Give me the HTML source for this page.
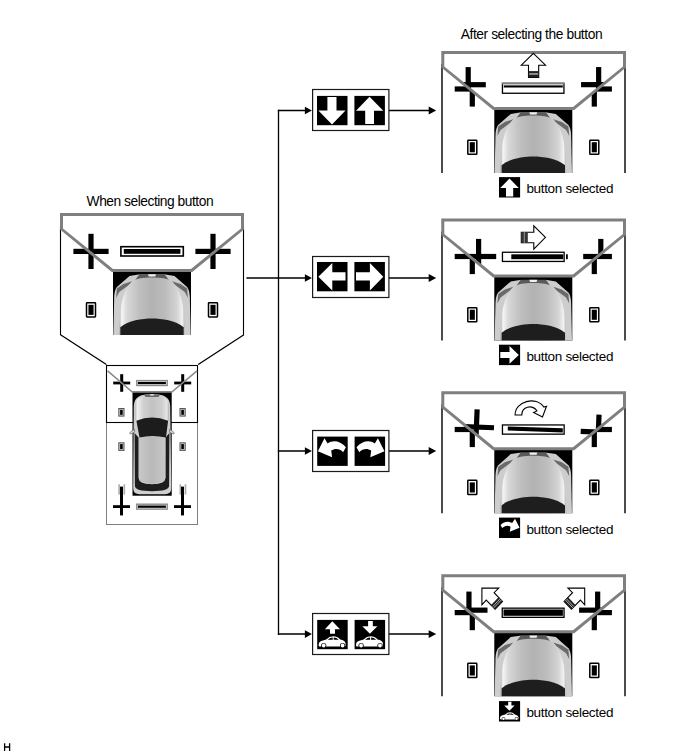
<!DOCTYPE html>
<html><head><meta charset="utf-8"><title>Parking guide adjustment</title>
<style>html,body{margin:0;padding:0;background:#fff;width:688px;height:755px;overflow:hidden}svg{display:block}</style>
</head><body>
<svg width="688" height="755" viewBox="0 0 688 755"><defs>
<linearGradient id="hood" x1="0" x2="1" y1="0" y2="0">
<stop offset="0" stop-color="#b8b8b8"/><stop offset="0.07" stop-color="#f0f0f0"/><stop offset="0.25" stop-color="#d0d0d0"/>
<stop offset="0.5" stop-color="#c2c2c2"/><stop offset="0.8" stop-color="#cfcfcf"/><stop offset="0.94" stop-color="#e6e6e6"/><stop offset="1" stop-color="#b0b0b0"/></linearGradient>
<linearGradient id="hoodL" x1="0" x2="1" y1="0" y2="0"><stop offset="0" stop-color="#b0b0b0"/><stop offset="0.1" stop-color="#f4f4f4"/><stop offset="0.35" stop-color="#d2d2d2"/><stop offset="1" stop-color="#c2c2c2"/></linearGradient>
<linearGradient id="hoodF" x1="0" x2="1" y1="0" y2="0"><stop offset="0" stop-color="#a8a8a8"/><stop offset="0.04" stop-color="#f6f6f6"/><stop offset="0.12" stop-color="#d8d8d8"/><stop offset="0.3" stop-color="#c0c0c0"/><stop offset="0.5" stop-color="#b2b2b2"/><stop offset="0.7" stop-color="#bcbcbc"/><stop offset="0.88" stop-color="#d4d4d4"/><stop offset="0.96" stop-color="#f2f2f2"/><stop offset="1" stop-color="#b0b0b0"/></linearGradient>
<linearGradient id="roof" x1="0" x2="1"><stop offset="0" stop-color="#c8c8c8"/><stop offset="0.5" stop-color="#b9b9b9"/><stop offset="1" stop-color="#c8c8c8"/></linearGradient>
<clipPath id="trap" clipPathUnits="userSpaceOnUse"><path d="M0,0 H185 V14.7 L131.5,57.5 H52.5 L0,14.7 Z"/></clipPath>
<clipPath id="outside" clipPathUnits="userSpaceOnUse"><path d="M-10,14.7 L0,14.7 L52.5,57.5 H131.5 L185,14.7 H200 V130 H-10 Z"/></clipPath>
</defs>
<text x="86.6" y="205.6" font-size="13.8" textLength="127" lengthAdjust="spacing" font-family="Liberation Sans, sans-serif" fill="#000">When selecting button</text>
<text x="460.8" y="38.9" font-size="13.8" textLength="141.8" lengthAdjust="spacing" font-family="Liberation Sans, sans-serif" fill="#000">After selecting the button</text>
<path d="M4.6,743.2 V751 M9.6,743.2 V751 M4.6,747 H9.6" stroke="#000" stroke-width="1.3" fill="none"/>
<g transform="translate(60,213)">
<rect x="53" y="58.5" width="78" height="63.5" fill="#000"/>
<g transform="translate(52.5,59)">
<path d="M39.9,2.6 L26,2.6 L17,3.9 L4.4,15.1 Q2,18 1.7,25 L0.8,63 L39.9,63 Z" fill="#cdcdcd"/>
<path d="M39.9,2.3 L26.9,2.3 L22.3,8.6 L39.9,8.6 Z" fill="#5a5a5a"/>
<path d="M3.6,26 L4.4,16.5 L11,12 L19.5,9.3 L17,12.5 L6.8,20 L5,23.3 Z" fill="#6a6a6a"/>
<g transform="matrix(-1,0,0,1,79,0)">
<path d="M39.9,2.6 L26,2.6 L17,3.9 L4.4,15.1 Q2,18 1.7,25 L0.8,63 L39.9,63 Z" fill="#cdcdcd"/>
<path d="M39.9,2.3 L26.9,2.3 L22.3,8.6 L39.9,8.6 Z" fill="#5a5a5a"/>
<path d="M3.6,26 L4.4,16.5 L11,12 L19.5,9.3 L17,12.5 L6.8,20 L5,23.3 Z" fill="#6a6a6a"/>
</g><path d="M39.5,5.6 C30,5.6 24.5,6.6 21.1,8.5 C14,13 9.5,25 8.2,37.3 C7.3,46 6.7,55 6.5,63 L72.5,63 C72.3,55 71.7,46 70.8,37.3 C69.5,25 65,13 57.9,8.5 C54.5,6.6 49,5.6 39.5,5.6 Z" fill="url(#hoodF)"/><path d="M35.5,2.3 L43.5,2.3 L42.7,4.6 L36.3,4.6 Z" fill="#f0f0f0"/><path d="M7.8,55.2 C15.5,48.5 30,46.5 39.5,46.5 C49,46.5 63.5,48.5 71.2,55.2 L71.2,63 L7.8,63 Z" fill="#1e1e1e"/></g>
<path d="M0.5,13 V122 M183.5,13 V122" stroke="#000" stroke-width="1.1" fill="none"/>
<rect x="28.40" y="20.80" width="5.2" height="35.2"/><rect x="13.40" y="35.80" width="35.2" height="5.2"/><rect x="150.40" y="20.80" width="5.2" height="35.2"/><rect x="135.40" y="35.80" width="35.2" height="5.2"/>
<path fill="#7f7f7f" fill-rule="evenodd" d="M0,0 H184 V16.6 L132.2,59 H51.8 L0,16.6 Z M3,3 V15.4 L53,56 H131 L181,15.4 V3 Z"/>
<g transform="translate(0,0)">
<rect x="60.9" y="33.7" width="62.4" height="9.3" fill="#fff" stroke="#000" stroke-width="1.6"/>
<rect x="63.8" y="36" width="56.6" height="4.8" fill="#000"/>
</g>
<rect x="26.50" y="89.75" width="9" height="14.2" rx="0.6" fill="#fff" stroke="#000" stroke-width="1.5"/>
<rect x="28.45" y="91.80" width="5.1" height="10.1" fill="#000"/>
<rect x="148.50" y="89.75" width="9" height="14.2" rx="0.6" fill="#fff" stroke="#000" stroke-width="1.5"/>
<rect x="150.45" y="91.80" width="5.1" height="10.1" fill="#000"/>
</g>
<path d="M60.5,334.7 L106.4,364.5 M243.9,334.7 L198.2,364.5" stroke="#000" stroke-width="1.3" fill="none"/>
<rect x="106.5" y="422.5" width="91" height="102" fill="#fff" stroke="#808080" stroke-width="1"/>
<rect x="132.5" y="391.5" width="39.2" height="104.2" fill="#000"/>
<rect x="106.5" y="365.5" width="91" height="57" fill="none" stroke="#000" stroke-width="1.1"/>
<rect x="120.2" y="374.2" width="3" height="17.6"/><rect x="113.2" y="381.6" width="17" height="2.8"/>
<rect x="181.2" y="374.2" width="3" height="17.6"/><rect x="174.2" y="381.6" width="17" height="2.8"/>
<rect x="120.0" y="497.8" width="3" height="17.6"/><rect x="113.0" y="505.20000000000005" width="17" height="2.8"/>
<rect x="181.0" y="497.8" width="3" height="17.6"/><rect x="174.0" y="505.20000000000005" width="17" height="2.8"/>
<path d="M107.6,370.8 L132.3,392 H171.8 L197,370.8" stroke="#8a8a8a" stroke-width="1.6" fill="none"/>
<rect x="136.8" y="380.59999999999997" width="30.4" height="4.9" fill="#fff" stroke="#888" stroke-width="1.4"/>
<rect x="137.9" y="381.9" width="28" height="2.3" fill="#000"/>
<rect x="136.8" y="504.2" width="30.4" height="4.9" fill="#fff" stroke="#888" stroke-width="1.4"/>
<rect x="137.9" y="505.5" width="28" height="2.3" fill="#000"/>
<rect x="118.8" y="408.5" width="5.2" height="7.6" fill="#d0d0d0" stroke="#555" stroke-width="1"/><rect x="120.1" y="409.8" width="2.6" height="5" fill="#000"/>
<rect x="118.8" y="442.8" width="5.2" height="7.6" fill="#d0d0d0" stroke="#555" stroke-width="1"/><rect x="120.1" y="444.1" width="2.6" height="5" fill="#000"/>
<rect x="118.3" y="484.3" width="1.6" height="10.3" fill="#aaa"/><rect x="123.5" y="484.3" width="1.6" height="10.3" fill="#aaa"/>
<rect x="180.0" y="408.5" width="5.2" height="7.6" fill="#d0d0d0" stroke="#555" stroke-width="1"/><rect x="181.3" y="409.8" width="2.6" height="5" fill="#000"/>
<rect x="180.0" y="442.8" width="5.2" height="7.6" fill="#d0d0d0" stroke="#555" stroke-width="1"/><rect x="181.3" y="444.1" width="2.6" height="5" fill="#000"/>
<rect x="179.5" y="484.3" width="1.6" height="10.3" fill="#aaa"/><rect x="184.7" y="484.3" width="1.6" height="10.3" fill="#aaa"/>
<rect x="120.0" y="486.6" width="3" height="20"/>
<rect x="181.0" y="486.6" width="3" height="20"/>
<g>
<path d="M133.8,406 C134.2,396 141,394.2 152,394.2 C163,394.2 169.8,396 170.2,406 L171.3,488 Q171.3,494.2 165,494.2 L139.5,494.2 Q133.2,494.2 133.2,488 Z" fill="#cfcfcf"/>
<path d="M134.6,433 L134.9,486 Q135.5,491.2 152,491.2 Q168.5,491.2 169.1,486 L169.4,433 L165.6,437.6 L165.5,478 Q165,484.2 152,484.2 Q139,484.2 138.6,478 L138.5,437.6 Z" fill="#1e1e1e"/>
<path d="M139,437.8 Q152,435.2 165.2,437.8 L165.3,477.5 Q165,483.8 152,483.8 Q139,483.8 138.8,477.5 Z" fill="url(#roof)"/>
<path d="M135,407 C135.4,397.5 141.5,395.6 152,395.6 C162.5,395.6 168.6,397.5 169,407 L169,421 L135,421 Z" fill="url(#hood)"/>
<path d="M144,394.4 L160,394.4 L158.5,397 L145.5,397 Z" fill="#6a6a6a"/>
<path d="M150,394.3 L154,394.3 L153.6,395.6 L150.4,395.6 Z" fill="#f4f4f4"/>
<path d="M136.4,420.7 Q152,414.3 168.1,420.7 L166,437.6 Q152,434.6 139.5,437.6 Z" fill="#1c1c1c"/>
<path d="M134.5,429.2 L130,432.4 Q129,433.8 130.4,434 L134.6,432.2 Z M169.5,429.2 L174,432.4 Q175,433.8 173.6,434 L169.4,432.2 Z" fill="#d8d8d8" stroke="#555" stroke-width="0.6"/>
</g>
<path d="M246.4,278 H278.5" stroke="#000" stroke-width="1.6" fill="none"/>
<path d="M278.5,109.8 V634.9" stroke="#000" stroke-width="1.3" fill="none"/>
<path d="M277.85,110.5 H306 M389,110.5 H430" stroke="#000" stroke-width="1.5" fill="none"/>
<path d="M311.9,110.5 L304.9,106.7 L304.9,114.3 Z"/>
<path d="M436.2,110.5 L428.7,106.6 L428.7,114.4 Z"/>
<path d="M277.85,278.0 H306 M389,278.0 H430" stroke="#000" stroke-width="1.5" fill="none"/>
<path d="M311.9,278.0 L304.9,274.2 L304.9,281.8 Z"/>
<path d="M436.2,278.0 L428.7,274.1 L428.7,281.9 Z"/>
<path d="M277.85,451.0 H306 M389,451.0 H430" stroke="#000" stroke-width="1.5" fill="none"/>
<path d="M311.9,451.0 L304.9,447.2 L304.9,454.8 Z"/>
<path d="M436.2,451.0 L428.7,447.1 L428.7,454.9 Z"/>
<path d="M277.85,634.1 H306 M389,634.1 H430" stroke="#000" stroke-width="1.5" fill="none"/>
<path d="M311.9,634.1 L304.9,630.3000000000001 L304.9,637.9 Z"/>
<path d="M436.2,634.1 L428.7,630.2 L428.7,638.0 Z"/>
<rect x="312.6" y="89.5" width="76.3" height="41" fill="#fff" stroke="#1a1a1a" stroke-width="1.2"/>
<rect x="312.6" y="256.5" width="76.3" height="41" fill="#fff" stroke="#1a1a1a" stroke-width="1.2"/>
<rect x="312.6" y="430.5" width="76.3" height="41" fill="#fff" stroke="#1a1a1a" stroke-width="1.2"/>
<rect x="312.6" y="613.5" width="76.3" height="41" fill="#fff" stroke="#1a1a1a" stroke-width="1.2"/>
<rect x="317" y="95.9" width="30.5" height="29.3" fill="#000"/><path fill="#fff" d="M327.4,97 H336.5 V110.4 H345.5 L332,124.4 L318.4,110.4 H327.4 Z"/>
<rect x="354.4" y="95.9" width="30.5" height="29.3" fill="#000"/><path fill="#fff" d="M369.5,96.8 L383.3,110.8 H374 V124.1 H365.2 V110.8 H356 Z"/>
<rect x="317" y="262" width="30.5" height="29.3" fill="#000"/><path fill="#fff" d="M318.4,276.7 L332.3,263 V272.3 H345.5 V280.5 H332.3 V290.4 Z"/>
<rect x="354.4" y="262" width="30.5" height="29.3" fill="#000"/><path fill="#fff" d="M383.3,276.7 L369.9,263 V272.3 H356 V280.5 H369.9 V290.4 Z"/>
<rect x="317.2" y="436.6" width="30.5" height="29.3" fill="#000"/><path fill="#fff" d="M324.5,438.2 L317.9,451.3 L332.1,457.2 L331.2,450.6 C335,447.8 340,448.6 343.1,452.2 L345.9,447.3 C340,440.3 332.5,439.8 327.6,443.4 Z"/>
<rect x="354.6" y="436.6" width="30.5" height="29.3" fill="#000"/><path fill="#fff" d="M377.9,438.2 L384.5,451.3 L370.3,457.2 L371.2,450.6 C367.4,447.8 362.4,448.6 359.3,452.2 L356.5,447.3 C362.4,440.3 369.9,439.8 374.8,443.4 Z"/>
<rect x="317.2" y="619.9" width="30.5" height="29.3" fill="#000"/><path fill="#fff" d="M332.3,621.3 L340,629.2 H335 V633.8 H330 V629.2 H324.9 Z"/><g transform="translate(317.2,619.9)" fill="#fff"><path d="M1.5,26 Q1,22 4,21 L9,19.5 Q12,16.3 16,16.3 Q20,16.3 23,19.6 Q27.5,20.5 28.3,23 L28.3,26 Q28,26.7 26,26.7 L4,26.7 Q1.8,26.7 1.5,26 Z"/><path d="M10.5,19.8 Q13,17.6 15.5,17.6 L15.5,19.8 Z M16.5,17.6 Q19.5,17.6 21.5,19.8 L16.5,19.8 Z" fill="#000"/><circle cx="6.5" cy="25.6" r="2.6" fill="#000"/><circle cx="6.5" cy="25.6" r="1.9" fill="#fff"/><circle cx="25.4" cy="25.6" r="2.6" fill="#000"/><circle cx="25.4" cy="25.6" r="1.9" fill="#fff"/></g>
<rect x="354.6" y="619.9" width="30.5" height="29.3" fill="#000"/><path fill="#fff" d="M368.1,621 H372.8 V626.3 H377.4 L369.9,633.8 L362.3,626.3 H368.1 Z"/><g transform="translate(354.6,619.9)" fill="#fff"><path d="M1.5,26 Q1,22 4,21 L9,19.5 Q12,16.3 16,16.3 Q20,16.3 23,19.6 Q27.5,20.5 28.3,23 L28.3,26 Q28,26.7 26,26.7 L4,26.7 Q1.8,26.7 1.5,26 Z"/><path d="M10.5,19.8 Q13,17.6 15.5,17.6 L15.5,19.8 Z M16.5,17.6 Q19.5,17.6 21.5,19.8 L16.5,19.8 Z" fill="#000"/><circle cx="6.5" cy="25.6" r="2.6" fill="#000"/><circle cx="6.5" cy="25.6" r="1.9" fill="#fff"/><circle cx="25.4" cy="25.6" r="2.6" fill="#000"/><circle cx="25.4" cy="25.6" r="1.9" fill="#fff"/></g>
<g transform="translate(441.3,51)">
<rect x="53" y="58.5" width="78" height="63.5" fill="#000"/>
<g transform="translate(52.5,59)">
<path d="M39.9,2.6 L26,2.6 L17,3.9 L4.4,15.1 Q2,18 1.7,25 L0.8,63 L39.9,63 Z" fill="#cdcdcd"/>
<path d="M39.9,2.3 L26.9,2.3 L22.3,8.6 L39.9,8.6 Z" fill="#5a5a5a"/>
<path d="M3.6,26 L4.4,16.5 L11,12 L19.5,9.3 L17,12.5 L6.8,20 L5,23.3 Z" fill="#6a6a6a"/>
<g transform="matrix(-1,0,0,1,79,0)">
<path d="M39.9,2.6 L26,2.6 L17,3.9 L4.4,15.1 Q2,18 1.7,25 L0.8,63 L39.9,63 Z" fill="#cdcdcd"/>
<path d="M39.9,2.3 L26.9,2.3 L22.3,8.6 L39.9,8.6 Z" fill="#5a5a5a"/>
<path d="M3.6,26 L4.4,16.5 L11,12 L19.5,9.3 L17,12.5 L6.8,20 L5,23.3 Z" fill="#6a6a6a"/>
</g><path d="M39.5,5.6 C30,5.6 24.5,6.6 21.1,8.5 C14,13 9.5,25 8.2,37.3 C7.3,46 6.7,55 6.5,63 L72.5,63 C72.3,55 71.7,46 70.8,37.3 C69.5,25 65,13 57.9,8.5 C54.5,6.6 49,5.6 39.5,5.6 Z" fill="url(#hoodF)"/><path d="M35.5,2.3 L43.5,2.3 L42.7,4.6 L36.3,4.6 Z" fill="#f0f0f0"/><path d="M7.8,55.2 C15.5,48.5 30,46.5 39.5,46.5 C49,46.5 63.5,48.5 71.2,55.2 L71.2,63 L7.8,63 Z" fill="#1e1e1e"/></g>
<path d="M0.7,13 V122 M183.7,13 V122" stroke="#000" stroke-width="1.4" fill="none"/>
<g clip-path="url(#outside)"><rect x="28.40" y="20.40" width="5.2" height="35.2"/><rect x="13.40" y="35.40" width="35.2" height="5.2"/></g><g clip-path="url(#trap)"><rect x="24.30" y="16.10" width="5.2" height="35.2"/><rect x="9.30" y="31.10" width="35.2" height="5.2"/></g><g clip-path="url(#outside)"><rect x="150.40" y="20.40" width="5.2" height="35.2"/><rect x="135.40" y="35.40" width="35.2" height="5.2"/></g><g clip-path="url(#trap)"><rect x="154.75" y="16.05" width="5.2" height="35.2"/><rect x="139.75" y="31.05" width="35.2" height="5.2"/></g>
<path fill="#7f7f7f" fill-rule="evenodd" d="M0,0 H184.7 V16.6 L132.89999999999998,59 H51.8 L0,16.6 Z M3,3 V15.4 L53,56 H131.7 L181.7,15.4 V3 Z"/>
<g transform="translate(0,0)">
<rect x="61.15" y="32.35" width="61.5" height="9.9" fill="#fff" stroke="#000" stroke-width="1.3"/>
<rect x="60.5" y="31.6" width="63" height="1.8" fill="#7f7f7f"/>
<rect x="62.5" y="34.4" width="59" height="2.1" fill="#000"/>
<path d="M92.1,2.3 L104.2,14.2 L97.4,14.2 L97.4,26.4 L87.2,26.4 L87.2,14.2 L80,14.2 Z" fill="#fff" stroke="#000" stroke-width="1.1"/>
<rect x="87.2" y="20.1" width="10.2" height="6.3" fill="#222"/>
<rect x="87.8" y="22.4" width="9" height="1.1" fill="#ddd"/>
</g>
<rect x="26.50" y="89.15" width="9" height="14.2" rx="0.6" fill="#fff" stroke="#000" stroke-width="1.5"/>
<rect x="28.45" y="91.20" width="5.1" height="10.1" fill="#000"/>
<rect x="148.50" y="89.15" width="9" height="14.2" rx="0.6" fill="#fff" stroke="#000" stroke-width="1.5"/>
<rect x="150.45" y="91.20" width="5.1" height="10.1" fill="#000"/>
</g>
<rect x="499.0" y="177.1" width="21.1" height="20.4" fill="#000"/><path fill="#fff" d="M509.5,178.6 L518.8,187.9 H513.2 V196.5 H506.0 V187.9 H500.3 Z"/><text x="526.4" y="193.4" font-size="13.5" textLength="87" lengthAdjust="spacing" font-family="Liberation Sans, sans-serif" fill="#000">button selected</text>
<g transform="translate(441.3,218.5)">
<rect x="53" y="58.5" width="78" height="63.5" fill="#000"/>
<g transform="translate(52.5,59)">
<path d="M39.9,2.6 L26,2.6 L17,3.9 L4.4,15.1 Q2,18 1.7,25 L0.8,63 L39.9,63 Z" fill="#cdcdcd"/>
<path d="M39.9,2.3 L26.9,2.3 L22.3,8.6 L39.9,8.6 Z" fill="#5a5a5a"/>
<path d="M3.6,26 L4.4,16.5 L11,12 L19.5,9.3 L17,12.5 L6.8,20 L5,23.3 Z" fill="#6a6a6a"/>
<g transform="matrix(-1,0,0,1,79,0)">
<path d="M39.9,2.6 L26,2.6 L17,3.9 L4.4,15.1 Q2,18 1.7,25 L0.8,63 L39.9,63 Z" fill="#cdcdcd"/>
<path d="M39.9,2.3 L26.9,2.3 L22.3,8.6 L39.9,8.6 Z" fill="#5a5a5a"/>
<path d="M3.6,26 L4.4,16.5 L11,12 L19.5,9.3 L17,12.5 L6.8,20 L5,23.3 Z" fill="#6a6a6a"/>
</g><path d="M39.5,5.6 C30,5.6 24.5,6.6 21.1,8.5 C14,13 9.5,25 8.2,37.3 C7.3,46 6.7,55 6.5,63 L72.5,63 C72.3,55 71.7,46 70.8,37.3 C69.5,25 65,13 57.9,8.5 C54.5,6.6 49,5.6 39.5,5.6 Z" fill="url(#hoodF)"/><path d="M35.5,2.3 L43.5,2.3 L42.7,4.6 L36.3,4.6 Z" fill="#f0f0f0"/><path d="M7.8,55.2 C15.5,48.5 30,46.5 39.5,46.5 C49,46.5 63.5,48.5 71.2,55.2 L71.2,63 L7.8,63 Z" fill="#1e1e1e"/></g>
<path d="M0.7,13 V122 M183.7,13 V122" stroke="#000" stroke-width="1.4" fill="none"/>
<g clip-path="url(#outside)"><rect x="28.40" y="20.40" width="5.2" height="35.2"/><rect x="13.40" y="35.40" width="35.2" height="5.2"/></g><g clip-path="url(#trap)"><rect x="34.70" y="20.40" width="5.2" height="35.2"/><rect x="19.70" y="35.40" width="35.2" height="5.2"/></g><g clip-path="url(#outside)"><rect x="150.40" y="20.40" width="5.2" height="35.2"/><rect x="135.40" y="35.40" width="35.2" height="5.2"/></g><g clip-path="url(#trap)"><rect x="156.90" y="20.40" width="5.2" height="35.2"/><rect x="141.90" y="35.40" width="35.2" height="5.2"/></g>
<path fill="#7f7f7f" fill-rule="evenodd" d="M0,0 H184.7 V16.6 L132.89999999999998,59 H51.8 L0,16.6 Z M3,3 V15.4 L53,56 H131.7 L181.7,15.4 V3 Z"/>
<g transform="translate(0,0.1)">
<rect x="61.15" y="33.65" width="61.7" height="9.2" fill="#fff" stroke="#000" stroke-width="1.3"/>
<rect x="70" y="35.7" width="51.9" height="4.9" fill="#000"/>
<rect x="124.7" y="35.7" width="1.8" height="4.9" fill="#000"/>
<path d="M104.2,18.7 L92.5,7.2 L92.5,13.6 L80,13.6 L80,24.1 L92.5,24.1 L92.5,30.6 Z" fill="#fff" stroke="#000" stroke-width="1.1"/>
<rect x="80" y="13.6" width="6.5" height="10.5" fill="#333"/>
<rect x="82.5" y="13.6" width="1" height="10.5" fill="#999"/>
</g>
<rect x="26.50" y="89.15" width="9" height="14.2" rx="0.6" fill="#fff" stroke="#000" stroke-width="1.5"/>
<rect x="28.45" y="91.20" width="5.1" height="10.1" fill="#000"/>
<rect x="148.50" y="89.15" width="9" height="14.2" rx="0.6" fill="#fff" stroke="#000" stroke-width="1.5"/>
<rect x="150.45" y="91.20" width="5.1" height="10.1" fill="#000"/>
</g>
<rect x="499.0" y="344.7" width="21.1" height="20.4" fill="#000"/><path fill="#fff" d="M518.8,354.9 L509.5,346.0 V351.9 H500.3 V357.9 H509.5 V363.8 Z"/><text x="526.4" y="361.0" font-size="13.5" textLength="87" lengthAdjust="spacing" font-family="Liberation Sans, sans-serif" fill="#000">button selected</text>
<g transform="translate(441.3,391.2)">
<rect x="53" y="58.5" width="78" height="63.5" fill="#000"/>
<g transform="translate(52.5,59)">
<path d="M39.9,2.6 L26,2.6 L17,3.9 L4.4,15.1 Q2,18 1.7,25 L0.8,63 L39.9,63 Z" fill="#cdcdcd"/>
<path d="M39.9,2.3 L26.9,2.3 L22.3,8.6 L39.9,8.6 Z" fill="#5a5a5a"/>
<path d="M3.6,26 L4.4,16.5 L11,12 L19.5,9.3 L17,12.5 L6.8,20 L5,23.3 Z" fill="#6a6a6a"/>
<g transform="matrix(-1,0,0,1,79,0)">
<path d="M39.9,2.6 L26,2.6 L17,3.9 L4.4,15.1 Q2,18 1.7,25 L0.8,63 L39.9,63 Z" fill="#cdcdcd"/>
<path d="M39.9,2.3 L26.9,2.3 L22.3,8.6 L39.9,8.6 Z" fill="#5a5a5a"/>
<path d="M3.6,26 L4.4,16.5 L11,12 L19.5,9.3 L17,12.5 L6.8,20 L5,23.3 Z" fill="#6a6a6a"/>
</g><path d="M39.5,5.6 C30,5.6 24.5,6.6 21.1,8.5 C14,13 9.5,25 8.2,37.3 C7.3,46 6.7,55 6.5,63 L72.5,63 C72.3,55 71.7,46 70.8,37.3 C69.5,25 65,13 57.9,8.5 C54.5,6.6 49,5.6 39.5,5.6 Z" fill="url(#hoodF)"/><path d="M35.5,2.3 L43.5,2.3 L42.7,4.6 L36.3,4.6 Z" fill="#f0f0f0"/><path d="M7.8,55.2 C15.5,48.5 30,46.5 39.5,46.5 C49,46.5 63.5,48.5 71.2,55.2 L71.2,63 L7.8,63 Z" fill="#1e1e1e"/></g>
<path d="M0.7,13 V122 M183.7,13 V122" stroke="#000" stroke-width="1.4" fill="none"/>
<g clip-path="url(#outside)"><rect x="28.40" y="20.70" width="5.2" height="35.2"/><rect x="13.40" y="35.70" width="35.2" height="5.2"/></g><g clip-path="url(#trap)"><g transform="rotate(2.4,92,135)"><rect x="28.40" y="20.70" width="5.2" height="35.2"/><rect x="13.40" y="35.70" width="35.2" height="5.2"/></g></g><g clip-path="url(#outside)"><rect x="150.40" y="20.70" width="5.2" height="35.2"/><rect x="135.40" y="35.70" width="35.2" height="5.2"/></g><g clip-path="url(#trap)"><g transform="rotate(2.4,92,135)"><rect x="150.40" y="20.70" width="5.2" height="35.2"/><rect x="135.40" y="35.70" width="35.2" height="5.2"/></g></g>
<path fill="#7f7f7f" fill-rule="evenodd" d="M0,0 H184.7 V16.6 L132.89999999999998,59 H51.8 L0,16.6 Z M3,3 V15.4 L53,56 H131.7 L181.7,15.4 V3 Z"/>
<g transform="translate(0,0.3)">
<rect x="61.15" y="33.45" width="61.7" height="9.2" fill="#fff" stroke="#000" stroke-width="1.3"/>
<path d="M66.5,34.9 L121.5,36.8 L121.5,40.9 L66.5,39.0 Z" fill="#000"/>
<path d="M73.8,23.5 C73.5,10 95,4 102.5,15.5 L105.2,14.8 L101.2,25.4 L92.3,21.1 L95.6,19.4 C91,13 80.5,14.5 80.5,23.5 Z" fill="#fff" stroke="#000" stroke-width="1.1" stroke-linejoin="miter"/>
</g>
<rect x="26.50" y="89.15" width="9" height="14.2" rx="0.6" fill="#fff" stroke="#000" stroke-width="1.5"/>
<rect x="28.45" y="91.20" width="5.1" height="10.1" fill="#000"/>
<rect x="148.50" y="89.15" width="9" height="14.2" rx="0.6" fill="#fff" stroke="#000" stroke-width="1.5"/>
<rect x="150.45" y="91.20" width="5.1" height="10.1" fill="#000"/>
</g>
<rect x="499.0" y="517.6" width="21.1" height="20.4" fill="#000"/><g transform="translate(499.0,517.6) scale(0.69)"><path fill="#fff" d="M23.2,1.6 L29.8,14.7 L15.6,20.6 L16.7,13.2 C12.7,10.4 7.7,11.9 4.6,15.2 L2.2,10.9 C7.7,4.9 14.7,4.9 19.1,8 Z"/></g><text x="526.4" y="533.9" font-size="13.5" textLength="87" lengthAdjust="spacing" font-family="Liberation Sans, sans-serif" fill="#000">button selected</text>
<g transform="translate(441.3,574.2)">
<rect x="53" y="58.5" width="78" height="63.5" fill="#000"/>
<g transform="translate(52.5,59)">
<path d="M39.9,2.6 L26,2.6 L17,3.9 L4.4,15.1 Q2,18 1.7,25 L0.8,63 L39.9,63 Z" fill="#cdcdcd"/>
<path d="M39.9,2.3 L26.9,2.3 L22.3,8.6 L39.9,8.6 Z" fill="#5a5a5a"/>
<path d="M3.6,26 L4.4,16.5 L11,12 L19.5,9.3 L17,12.5 L6.8,20 L5,23.3 Z" fill="#6a6a6a"/>
<g transform="matrix(-1,0,0,1,79,0)">
<path d="M39.9,2.6 L26,2.6 L17,3.9 L4.4,15.1 Q2,18 1.7,25 L0.8,63 L39.9,63 Z" fill="#cdcdcd"/>
<path d="M39.9,2.3 L26.9,2.3 L22.3,8.6 L39.9,8.6 Z" fill="#5a5a5a"/>
<path d="M3.6,26 L4.4,16.5 L11,12 L19.5,9.3 L17,12.5 L6.8,20 L5,23.3 Z" fill="#6a6a6a"/>
</g><path d="M39.5,5.6 C30,5.6 24.5,6.6 21.1,8.5 C14,13 9.5,25 8.2,37.3 C7.3,46 6.7,55 6.5,63 L72.5,63 C72.3,55 71.7,46 70.8,37.3 C69.5,25 65,13 57.9,8.5 C54.5,6.6 49,5.6 39.5,5.6 Z" fill="url(#hoodF)"/><path d="M35.5,2.3 L43.5,2.3 L42.7,4.6 L36.3,4.6 Z" fill="#f0f0f0"/><path d="M7.8,55.2 C15.5,48.5 30,46.5 39.5,46.5 C49,46.5 63.5,48.5 71.2,55.2 L71.2,63 L7.8,63 Z" fill="#1e1e1e"/></g>
<path d="M0.7,13 V122 M183.7,13 V122" stroke="#000" stroke-width="1.4" fill="none"/>
<g clip-path="url(#outside)"><rect x="28.40" y="20.80" width="5.2" height="35.2"/><rect x="13.40" y="35.80" width="35.2" height="5.2"/></g><g clip-path="url(#trap)"><g transform="translate(92,83) scale(1.055) translate(-92,-83)"><rect x="28.54" y="20.80" width="4.928909952606635" height="35.2"/><rect x="13.40" y="35.94" width="35.2" height="4.928909952606635"/></g></g><g clip-path="url(#outside)"><rect x="150.40" y="20.80" width="5.2" height="35.2"/><rect x="135.40" y="35.80" width="35.2" height="5.2"/></g><g clip-path="url(#trap)"><g transform="translate(92,83) scale(1.055) translate(-92,-83)"><rect x="150.54" y="20.80" width="4.928909952606635" height="35.2"/><rect x="135.40" y="35.94" width="35.2" height="4.928909952606635"/></g></g>
<path fill="#7f7f7f" fill-rule="evenodd" d="M0,0 H184.7 V16.6 L132.89999999999998,59 H51.8 L0,16.6 Z M3,3 V15.4 L53,56 H131.7 L181.7,15.4 V3 Z"/>
<g transform="translate(0,0.8)">
<rect x="60.95" y="33.15" width="61.8" height="9.2" fill="#fff" stroke="#000" stroke-width="1.3"/>
<rect x="62.2" y="34.5" width="59.4" height="6.3" fill="#000"/>
<path d="M40.6,13.1 L57.4,13.1 L52.8,17.7 L61.2,26.4 L53.8,34.2 L44.9,25.1 L40.6,29.9 Z" fill="#fff" stroke="#000" stroke-width="1.1"/>
<path d="M57.2,22.2 L61.2,26.4 L53.8,34.2 L49.8,30.0 Z" fill="#222"/>
<path d="M59.91,25.05 L52.51,32.85" stroke="#d0d0d0" stroke-width="0.8"/>
<path d="M58.77,23.85 L51.37,31.65" stroke="#d0d0d0" stroke-width="0.8"/>
<path d="M143.4,13.1 L126.6,13.1 L131.2,17.7 L122.8,26.4 L130.2,34.2 L139.1,25.1 L143.4,29.9 Z" fill="#fff" stroke="#000" stroke-width="1.1"/>
<path d="M126.8,22.2 L122.8,26.4 L130.2,34.2 L134.2,30.0 Z" fill="#222"/>
<path d="M124.09,25.05 L131.49,32.85" stroke="#d0d0d0" stroke-width="0.8"/>
<path d="M125.23,23.85 L132.63,31.65" stroke="#d0d0d0" stroke-width="0.8"/>
</g>
<rect x="26.50" y="89.15" width="9" height="14.2" rx="0.6" fill="#fff" stroke="#000" stroke-width="1.5"/>
<rect x="28.45" y="91.20" width="5.1" height="10.1" fill="#000"/>
<rect x="148.50" y="89.15" width="9" height="14.2" rx="0.6" fill="#fff" stroke="#000" stroke-width="1.5"/>
<rect x="150.45" y="91.20" width="5.1" height="10.1" fill="#000"/>
</g>
<rect x="499.0" y="701.1" width="21.1" height="20.4" fill="#000"/><g transform="translate(499.0,701.1) scale(0.69)"><path fill="#fff" d="M13.3,1.1 H18 V6.4 H22.6 L15.1,13.9 L7.5,6.4 H13.3 Z"/></g><g transform="translate(499.0,701.1) scale(0.69)"><g transform="translate(0,0)" fill="#fff"><path d="M1.5,26 Q1,22 4,21 L9,19.5 Q12,16.3 16,16.3 Q20,16.3 23,19.6 Q27.5,20.5 28.3,23 L28.3,26 Q28,26.7 26,26.7 L4,26.7 Q1.8,26.7 1.5,26 Z"/><path d="M10.5,19.8 Q13,17.6 15.5,17.6 L15.5,19.8 Z M16.5,17.6 Q19.5,17.6 21.5,19.8 L16.5,19.8 Z" fill="#000"/><circle cx="6.5" cy="25.6" r="2.6" fill="#000"/><circle cx="6.5" cy="25.6" r="1.9" fill="#fff"/><circle cx="25.4" cy="25.6" r="2.6" fill="#000"/><circle cx="25.4" cy="25.6" r="1.9" fill="#fff"/></g></g><text x="526.4" y="717.4" font-size="13.5" textLength="87" lengthAdjust="spacing" font-family="Liberation Sans, sans-serif" fill="#000">button selected</text></svg>
</body></html>
